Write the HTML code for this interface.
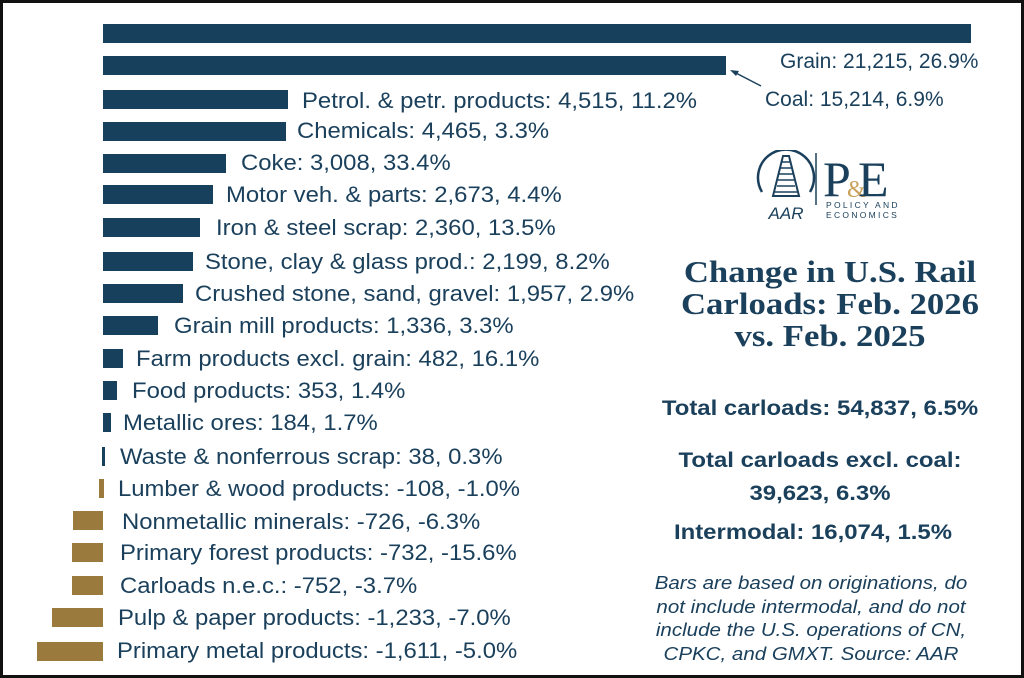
<!DOCTYPE html>
<html><head><meta charset="utf-8"><style>
body{margin:0;width:1024px;height:678px;background:#fff;position:relative;overflow:hidden;font-family:"Liberation Sans",sans-serif;color:#1b405c}
.frame{position:absolute;left:0;top:0;width:1018px;height:672px;border:3px solid #111;}
.b{position:absolute;height:19px;background:#17405c}
.g{position:absolute;height:19px;background:#9b7a3e}
.l{position:absolute;font-size:22px;line-height:22px;white-space:nowrap;transform:scaleX(1.085);transform-origin:0 0}
.c{position:absolute;text-align:center;white-space:nowrap;transform-origin:50% 0}
</style></head><body>
<div class="frame"></div>
<div class="b" style="left:103px;top:24px;width:868px"></div>
<div class="b" style="left:103px;top:56px;width:623px"></div>
<div class="b" style="left:103px;top:90px;width:185px"></div>
<div class="b" style="left:103px;top:122px;width:183px"></div>
<div class="b" style="left:103px;top:154px;width:123px"></div>
<div class="b" style="left:103px;top:185px;width:110px"></div>
<div class="b" style="left:103px;top:218px;width:97px"></div>
<div class="b" style="left:103px;top:252px;width:90px"></div>
<div class="b" style="left:103px;top:284px;width:80px"></div>
<div class="b" style="left:103px;top:316px;width:55px"></div>
<div class="b" style="left:103px;top:349px;width:20px"></div>
<div class="b" style="left:103px;top:381px;width:14px"></div>
<div class="b" style="left:103px;top:413px;width:8px"></div>
<div class="b" style="left:102px;top:447px;width:3px"></div>
<div class="g" style="left:99px;top:479px;width:5px"></div>
<div class="g" style="left:73px;top:511px;width:30px"></div>
<div class="g" style="left:72px;top:543px;width:31px"></div>
<div class="g" style="left:72px;top:576px;width:31px"></div>
<div class="g" style="left:52px;top:608px;width:51px"></div>
<div class="g" style="left:37px;top:642px;width:66px"></div>

<div class="l" style="left:780px;top:51px;font-size:21px;transform:none">Grain: 21,215, 26.9%</div>
<div class="l" style="left:765px;top:89px;font-size:21px;transform:none">Coal: 15,214, 6.9%</div>
<svg style="position:absolute;left:728px;top:68px" width="36" height="22"><line x1="33" y1="18" x2="6" y2="4" stroke="#1b405c" stroke-width="1.5"/><polygon points="2,2 11,3 8,8" fill="#1b405c"/></svg>
<div class="l" style="left:302px;top:90px">Petrol. &amp; petr. products: 4,515, 11.2%</div>
<div class="l" style="left:297px;top:120px">Chemicals: 4,465, 3.3%</div>
<div class="l" style="left:241px;top:152px">Coke: 3,008, 33.4%</div>
<div class="l" style="left:226px;top:184px">Motor veh. &amp; parts: 2,673, 4.4%</div>
<div class="l" style="left:216px;top:217px">Iron &amp; steel scrap: 2,360, 13.5%</div>
<div class="l" style="left:205px;top:251px">Stone, clay &amp; glass prod.: 2,199, 8.2%</div>
<div class="l" style="left:195px;top:283px">Crushed stone, sand, gravel: 1,957, 2.9%</div>
<div class="l" style="left:174px;top:315px">Grain mill products: 1,336, 3.3%</div>
<div class="l" style="left:136px;top:348px">Farm products excl. grain: 482, 16.1%</div>
<div class="l" style="left:132px;top:380px">Food products: 353, 1.4%</div>
<div class="l" style="left:123px;top:412px">Metallic ores: 184, 1.7%</div>
<div class="l" style="left:120px;top:446px">Waste &amp; nonferrous scrap: 38, 0.3%</div>
<div class="l" style="left:118px;top:478px">Lumber &amp; wood products: -108, -1.0%</div>
<div class="l" style="left:122px;top:511px">Nonmetallic minerals: -726, -6.3%</div>
<div class="l" style="left:120px;top:542px">Primary forest products: -732, -15.6%</div>
<div class="l" style="left:120px;top:575px">Carloads n.e.c.: -752, -3.7%</div>
<div class="l" style="left:118px;top:607px">Pulp &amp; paper products: -1,233, -7.0%</div>
<div class="l" style="left:117px;top:640px">Primary metal products: -1,611, -5.0%</div>

<!-- logo -->
<svg style="position:absolute;left:750px;top:150px" width="150" height="72">
<path d="M12,42 A28,28 0 1 1 60,42" fill="none" stroke="#1b405c" stroke-width="2.5"/>
<polygon points="33,6 39,6 49,46 23,46" fill="none" stroke="#1b405c" stroke-width="2"/>
<g stroke="#1b405c" stroke-width="1.5"><line x1="31" y1="12" x2="41" y2="12"/><line x1="30" y1="18" x2="42" y2="18"/><line x1="29" y1="24" x2="43" y2="24"/><line x1="28" y1="30" x2="44" y2="30"/><line x1="27" y1="36" x2="45" y2="36"/><line x1="25" y1="42" x2="47" y2="42"/></g>
<text x="36" y="69" text-anchor="middle" font-family="Liberation Sans" font-style="italic" font-size="17" fill="#1b405c">AAR</text>
<line x1="66" y1="3" x2="66" y2="55" stroke="#1b405c" stroke-width="1.5"/>
<text x="73" y="46" font-family="Liberation Serif" font-size="50" fill="#1b405c">P</text>
<text x="97" y="47" font-family="Liberation Serif" font-size="24" fill="#c9a15a">&amp;</text>
<text x="108" y="46" font-family="Liberation Serif" font-size="50" fill="#1b405c">E</text>
<text x="76" y="58" font-family="Liberation Sans" font-size="8.5" letter-spacing="2.3" fill="#1b405c">POLICY AND</text>
<text x="76" y="68" font-family="Liberation Sans" font-size="8.5" letter-spacing="2.3" fill="#1b405c">ECONOMICS</text>
</svg>

<div class="c" style="left:640px;width:380px;top:256px;font-family:'Liberation Serif',serif;font-weight:bold;font-size:31px;line-height:32px;transform:scaleX(1.12)">Change in U.S. Rail<br>Carloads: Feb. 2026<br>vs. Feb. 2025</div>
<div class="c" style="left:630px;width:380px;top:397px;font-weight:bold;font-size:21px;line-height:24px;transform:scaleX(1.14)">Total carloads: 54,837, 6.5%</div>
<div class="c" style="left:630px;width:380px;top:444px;font-weight:bold;font-size:21px;line-height:33px;transform:scaleX(1.14)">Total carloads excl. coal:<br>39,623, 6.3%</div>
<div class="c" style="left:623px;width:380px;top:521px;font-weight:bold;font-size:21px;line-height:24px;transform:scaleX(1.14)">Intermodal: 16,074, 1.5%</div>
<div class="c" style="left:621px;width:380px;top:572px;font-style:italic;font-size:18px;line-height:23.5px;transform:scaleX(1.14)">Bars are based on originations, do<br>not include intermodal, and do not<br>include the U.S. operations of CN,<br>CPKC, and GMXT. Source: AAR</div>
</body></html>
